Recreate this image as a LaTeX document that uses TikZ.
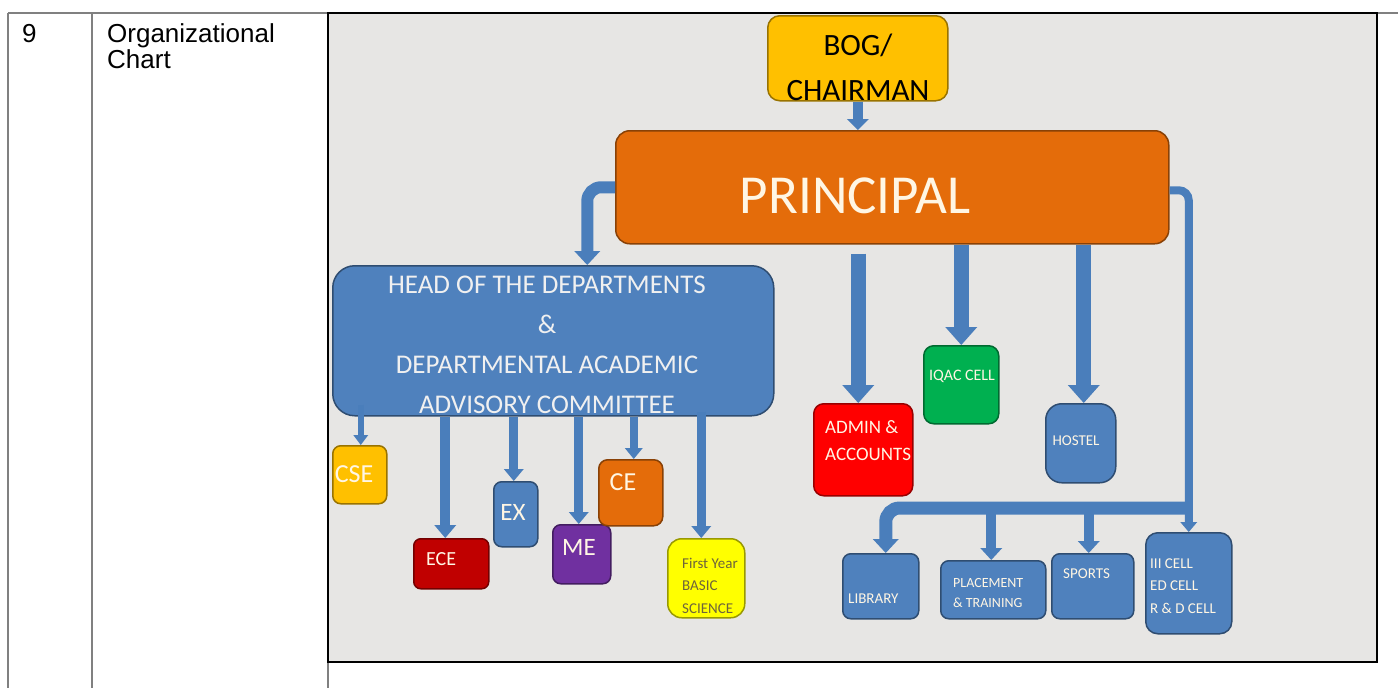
\documentclass[tikz,border=0pt]{standalone}
\usepackage{fontspec}
\setmainfont{Liberation Sans}
\newfontfamily\calfont{Carlito}
\usetikzlibrary{arrows.meta,calc}
\definecolor{ablue}{RGB}{74,126,187}
\definecolor{bblue}{RGB}{79,129,189}
\definecolor{bggray}{RGB}{231,230,228}
\definecolor{lgray}{RGB}{128,128,128}
\definecolor{gold}{RGB}{255,192,0}
\definecolor{orng}{RGB}{228,108,10}
\definecolor{dred}{RGB}{192,0,0}
\definecolor{purp}{RGB}{112,48,160}
\definecolor{grn}{RGB}{0,176,80}
\definecolor{yel}{RGB}{255,255,0}
\definecolor{rred}{RGB}{255,0,0}
\definecolor{cream}{RGB}{255,246,228}
\definecolor{olivetxt}{RGB}{110,100,60}
\newcommand\cf[2]{\calfont\fontsize{#1}{#2}\selectfont}
\newcommand\stk[2]{\begin{tabular}[t]{@{}#1@{}}#2\end{tabular}}
\begin{document}
\begin{tikzpicture}[x=1pt,y=-1pt,
  bx/.style 2 args={draw=#1!60!black, fill=#1, line width=1.5pt, rounded corners=#2, inner sep=0pt, anchor=north west},
  ar/.style n args={3}{draw=ablue, line width=#1, -{Triangle[width=#2,length=#3,line width=0pt]}},
  tx/.style={inner sep=0pt, anchor=base, text=cream},
  txl/.style={inner sep=0pt, anchor=base west, text=cream},
  tline/.style={draw=lgray, line width=1.5pt}]
\useasboundingbox (0,0) rectangle (1398,688);
% table
\draw[tline] (8,13) -- (1398,13);
\draw[tline] (8,13) -- (8,688);
\draw[tline] (92,13) -- (92,688);
\draw[tline] (328,13) -- (328,688);
\node[inner sep=0pt, anchor=base west] (num) at (22,42) {\fontsize{26}{26}\selectfont 9};
\node[inner sep=0pt, anchor=base west] (ttl) at (107,42) {\fontsize{26}{26}\selectfont\stk{l}{Organizational\\Chart}};
% picture area
\fill[bggray] (328,13) rectangle (1377,662);
\draw[black, line width=1.5pt] (328,13) rectangle (1377,662);
% boxes
\node[bx={gold}{12pt}, minimum width=180pt, minimum height=85pt] (bog) at (767,15) {};
\node[bx={orng}{14pt}, minimum width=553pt, minimum height=113pt] (pr) at (615,130) {};
\node[bx={bblue}{22pt}, minimum width=441pt, minimum height=150pt] (hod) at (332,265) {};
\node[bx={gold}{8pt}, minimum width=54pt, minimum height=58pt] (cse) at (332,445) {};
\node[bx={dred}{7pt}, minimum width=75pt, minimum height=50pt] (ece) at (413,538) {};
\node[bx={bblue}{8pt}, minimum width=44pt, minimum height=65pt] (ex) at (493,481) {};
\node[bx={purp}{8pt}, minimum width=58pt, minimum height=59pt] (me) at (552,524) {};
\node[bx={orng}{9pt}, minimum width=64pt, minimum height=66pt] (ce) at (598,459) {};
\node[bx={yel}{14pt}, minimum width=77pt, minimum height=79pt] (fy) at (667,538) {};
\node[bx={rred}{10pt}, minimum width=99pt, minimum height=92pt] (adm) at (813,403) {};
\node[bx={grn}{10pt}, minimum width=75pt, minimum height=78pt] (iq) at (923,345) {};
\node[bx={bblue}{16pt}, minimum width=70pt, minimum height=79pt] (hos) at (1045,403) {};
\node[bx={bblue}{8pt}, minimum width=76pt, minimum height=65pt] (lib) at (842,553) {};
\node[bx={bblue}{8pt}, minimum width=105pt, minimum height=58pt] (plc) at (940,560) {};
\node[bx={bblue}{8pt}, minimum width=82pt, minimum height=65pt] (spt) at (1051,553) {};
\node[bx={bblue}{12pt}, minimum width=86pt, minimum height=101pt] (iii) at (1145,532) {};
% connectors
\draw[ar={10pt}{22pt}{11pt}] (bog.south) -- (bog.south |- pr.north);
\draw[ar={12pt}{26pt}{14pt}, rounded corners=14pt] (pr.west) -| ($(hod.north)+(34,0)$);
\draw[ar={6pt}{15pt}{10pt}] ($(cse.north |- hod.south)+(1,-12)$) -- ($(cse.north)+(1,0)$);
\draw[ar={10pt}{22pt}{13pt}] ($(ece.north |- hod.south)+(-6,0)$) -- ($(ece.north)+(-6,0)$);
\draw[ar={9pt}{20pt}{12pt}] ($(ex.north |- hod.south)+(-2,0)$) -- ($(ex.north)+(-2,0)$);
\draw[ar={9pt}{20pt}{12pt}] ($(me.north |- hod.south)+(-3,0)$) -- ($(me.north)+(-3,0)$);
\draw[ar={8pt}{18pt}{11pt}] ($(ce.north |- hod.south)+(3,0)$) -- ($(ce.north)+(3,0)$);
\draw[ar={9pt}{20pt}{12pt}] ($(fy.north |- hod.south)+(-5,-5)$) -- ($(fy.north)+(-5,0)$);
\draw[ar={15pt}{32pt}{18pt}] ($(adm.north |- pr.south)+(-5,9)$) -- ($(adm.north)+(-5,0)$);
\draw[ar={15pt}{32pt}{18pt}] (iq.north |- pr.south) -- (iq.north);
\draw[ar={15pt}{32pt}{18pt}] ($(hos.north |- pr.south)+(3,0)$) -- ($(hos.north)+(3,0)$);
\draw[ar={8pt}{17pt}{10pt}, rounded corners=10pt] ($(pr.east)+(0,3)$) -| (iii.north);
\draw[ar={13pt}{26pt}{14pt}, rounded corners=14pt] ($(iii.north)+(0,-24)$) -| ($(lib.north)+(5,0)$);
\draw[ar={10pt}{22pt}{12pt}] ($(plc.north |- iii.north)+(-2,-24)$) -- ($(plc.north)+(-2,0)$);
\draw[ar={10pt}{22pt}{12pt}] ($(spt.north |- iii.north)+(-4,-24)$) -- ($(spt.north)+(-4,0)$);
% texts
\node[tx, text=black] (bogt) at (858,55) {\cf{31}{45}\stk{c}{BOG/\\CHAIRMAN}};
\node[tx] (prt) at (855,213) {\cf{55}{55}PRINCIPAL};
\node[tx, text=white!94!black] (hodt) at (547,293) {\cf{27}{40}\stk{c}{HEAD OF THE DEPARTMENTS\\\&\\DEPARTMENTAL ACADEMIC\\ADVISORY COMMITTEE}};
\node[tx] (cset) at (354,482) {\cf{26}{26}CSE};
\node[txl] (ecet) at (426,565) {\cf{20}{20}ECE};
\node[tx] (ext) at (513,520) {\cf{25}{25}EX};
\node[tx] (met) at (579,555) {\cf{25}{25}ME};
\node[tx] (cet) at (623,490) {\cf{26}{26}CE};
\node[txl, text=olivetxt] (fyt) at (682,568) {\cf{15}{22.5}\stk{l}{First Year\\BASIC\\SCIENCE}};
\node[txl] (admt) at (825,433) {\cf{19}{27}\stk{l}{ADMIN \&\\ACCOUNTS}};
\node[tx] (iqt) at (962,380) {\cf{16}{16}IQAC CELL};
\node[tx] (host) at (1076,445) {\cf{15}{15}HOSTEL};
\node[txl] (libt) at (848,603) {\cf{15}{15}LIBRARY};
\node[txl] (plct) at (953,587) {\cf{14}{20}\stk{l}{PLACEMENT\\\& TRAINING}};
\node[txl] (sptt) at (1063,578) {\cf{15}{15}SPORTS};
\node[txl] (iiit) at (1150,568) {\cf{15}{22.5}\stk{l}{III CELL\\ED CELL\\R \& D CELL}};
\end{tikzpicture}
\end{document}
